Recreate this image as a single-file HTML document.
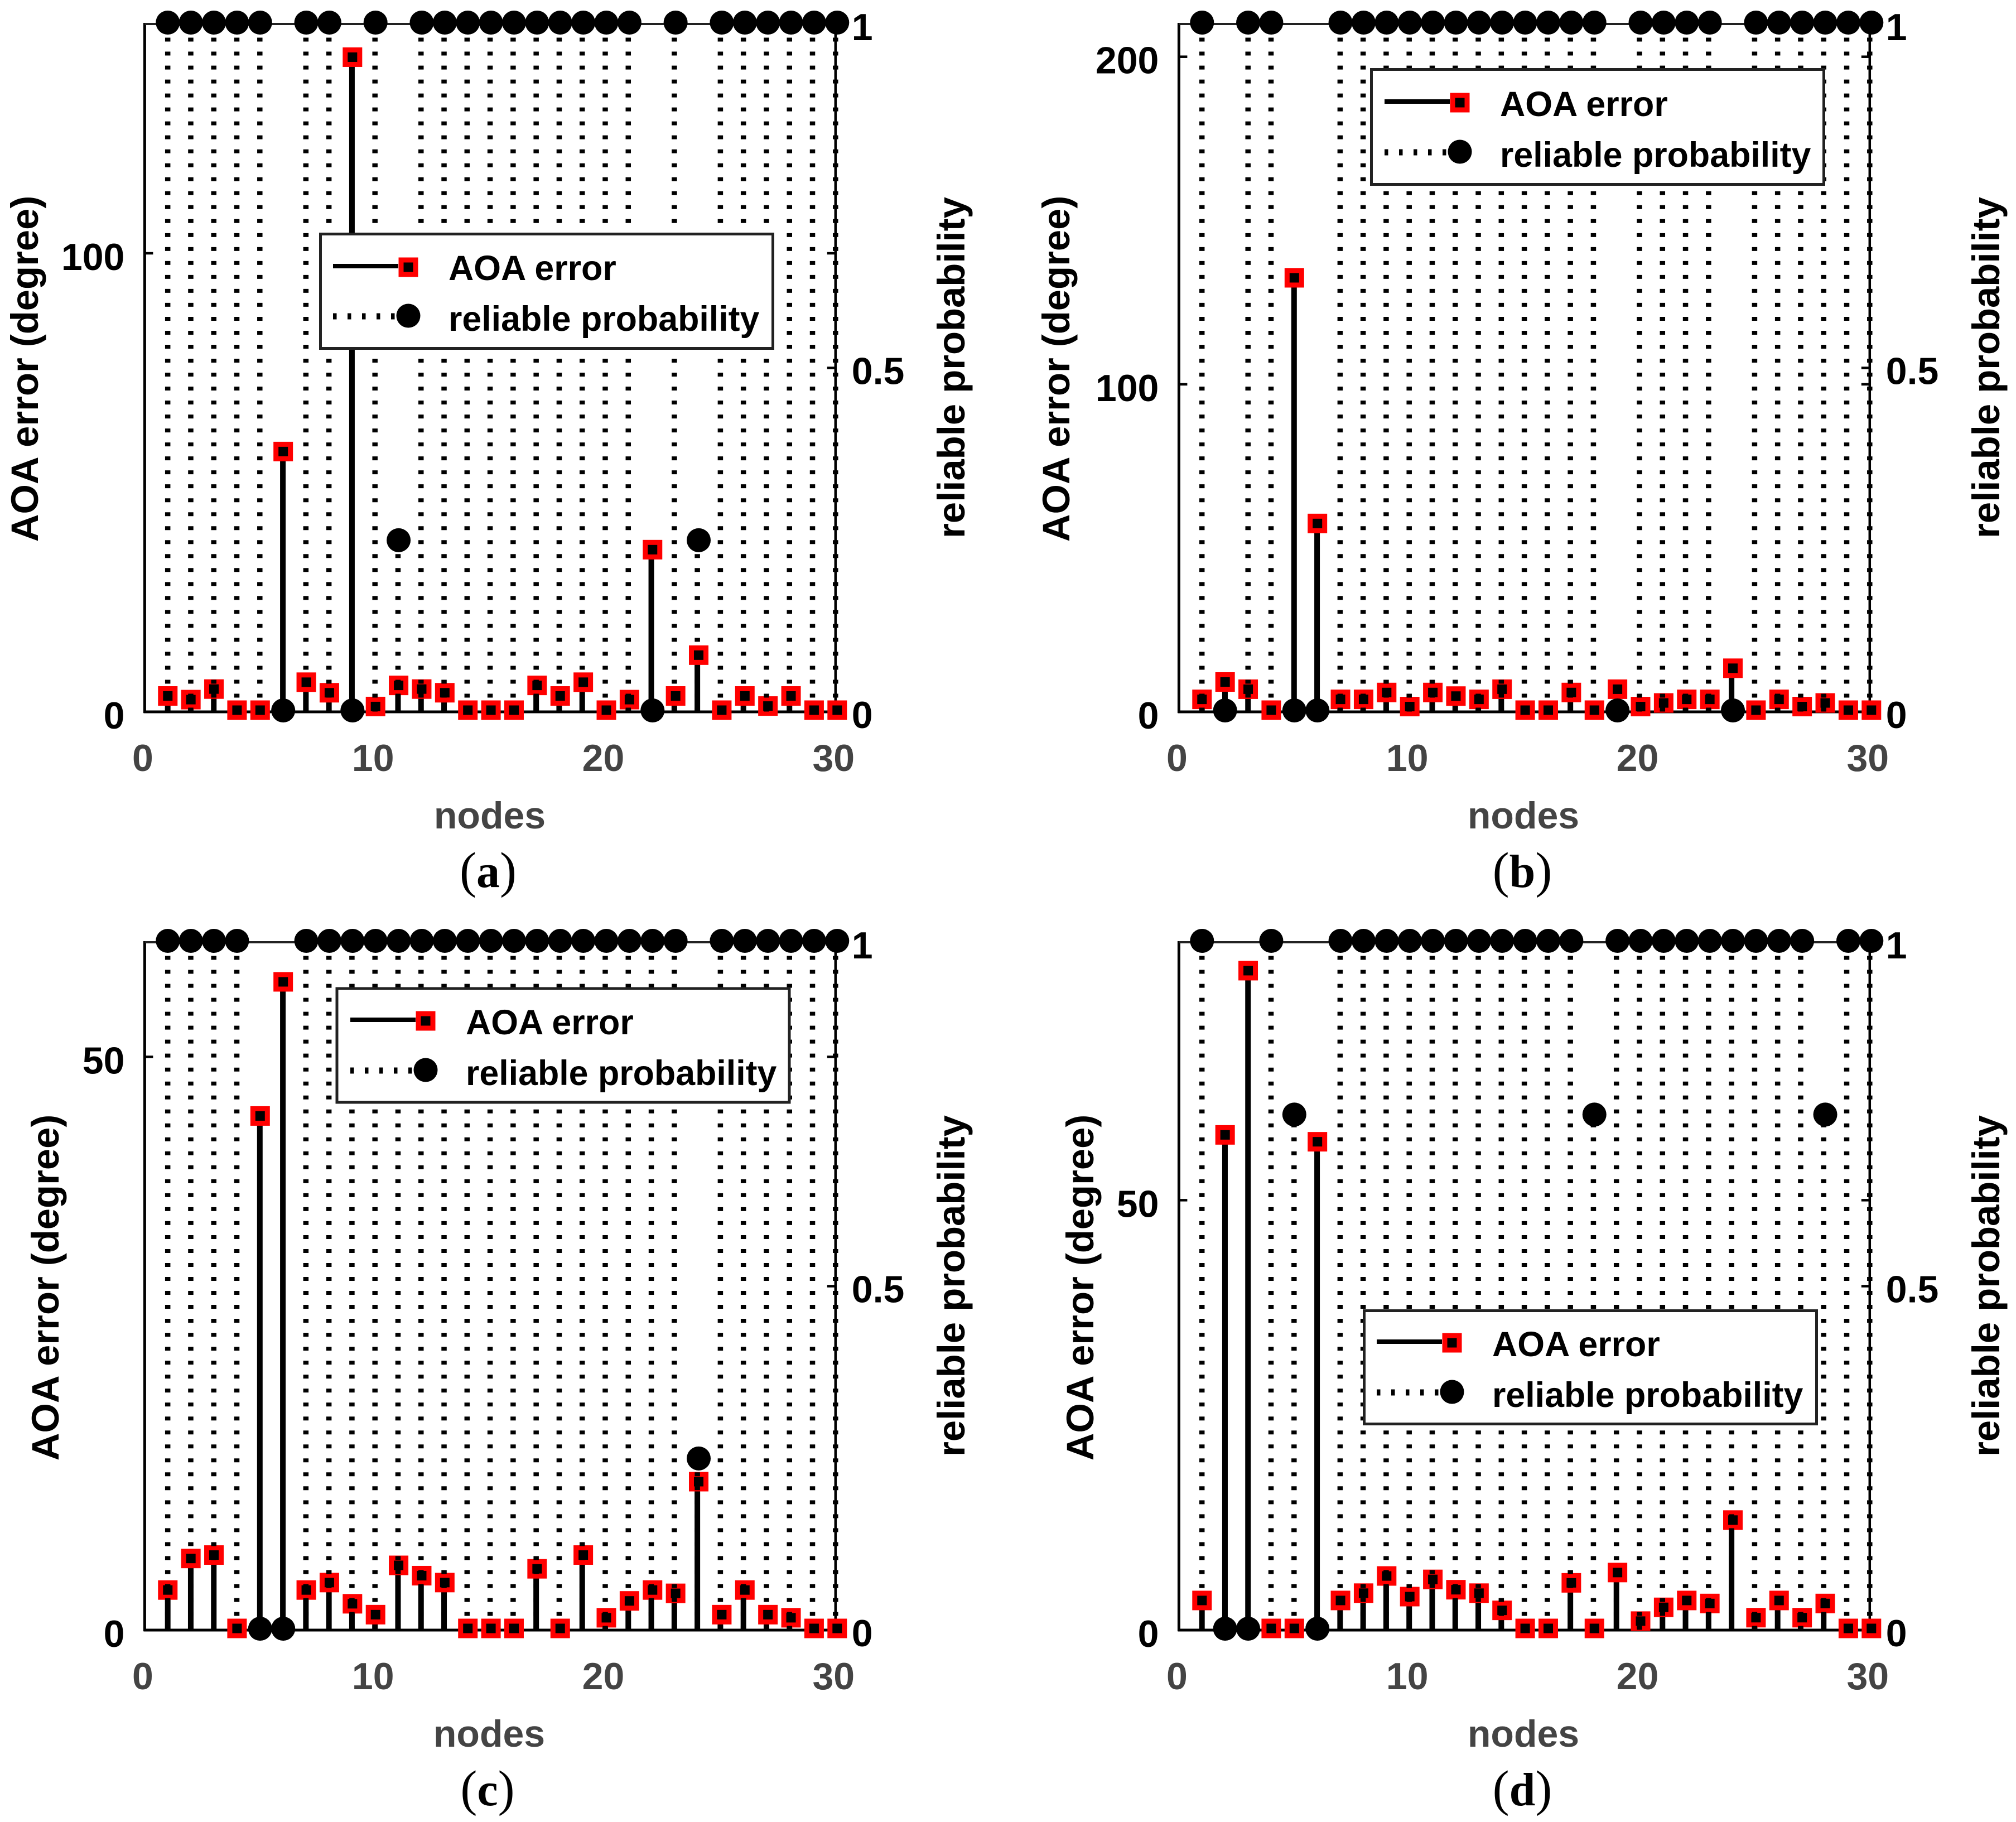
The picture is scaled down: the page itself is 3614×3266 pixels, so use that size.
<!DOCTYPE html>
<html lang="en">
<head>
<meta charset="utf-8">
<title>AOA error and reliable probability per node</title>
<style>
html,body{margin:0;padding:0;background:#fff;}
svg{display:block;}
text{font-family:"Liberation Sans",Arial,sans-serif;font-weight:bold;}
.ax{font-size:68px;fill:#000;}
.yt{font-size:68.8px;fill:#000;}
.xl{font-size:68px;fill:#444;}
.lg{font-size:62.7px;fill:#000;}
text.cap{font-family:"Liberation Serif",serif;font-weight:normal;font-size:90px;fill:#000;text-anchor:middle;}
.cap tspan{font-weight:bold;font-size:84px;}
.box{fill:#fff;stroke:#222;stroke-width:5;}
</style>
</head>
<body>
<svg id="figure" xmlns="http://www.w3.org/2000/svg" width="3614" height="3266" viewBox="0 0 3614 3266">
<rect x="0" y="0" width="3614" height="3266" fill="#fff"/>

<g id="panel-a">
  <g id="marks-a"></g>
  <text class="yt" text-anchor="middle" transform="translate(68 661) rotate(-90)">AOA error (degree)</text>
  <text class="yt" text-anchor="middle" transform="translate(1729 659) rotate(-90)">reliable probability</text>
  <text class="xl" text-anchor="middle" x="878" y="1485">nodes</text>
  <text class="cap" x="875" y="1590">(<tspan>a</tspan>)</text>
  <g>
    <rect class="box" x="574.5" y="419.5" width="811" height="205"/>
    <line x1="597" x2="714" y1="477" y2="477" stroke="#000" stroke-width="8"/>
    <rect x="719" y="466" width="26" height="26" fill="#000" stroke="#f00" stroke-width="9"/>
    <line x1="597" x2="714" y1="567" y2="567" stroke="#000" stroke-width="11" stroke-dasharray="6.5 19.5"/>
    <circle cx="732" cy="566" r="21.5" fill="#000"/>
    <text class="lg" x="804" y="502">AOA error</text>
    <text class="lg" x="804" y="593">reliable probability</text>
  </g>
</g>

<g id="panel-b">
  <g id="marks-b"></g>
  <text class="yt" text-anchor="middle" transform="translate(1917 661) rotate(-90)">AOA error (degree)</text>
  <text class="yt" text-anchor="middle" transform="translate(3584 659) rotate(-90)">reliable probability</text>
  <text class="xl" text-anchor="middle" x="2731" y="1485">nodes</text>
  <text class="cap" x="2729" y="1590">(<tspan>b</tspan>)</text>
  <g>
    <rect class="box" x="2458.5" y="124.5" width="811" height="206"/>
    <line x1="2482" x2="2599" y1="182" y2="182" stroke="#000" stroke-width="8"/>
    <rect x="2604" y="171" width="26" height="26" fill="#000" stroke="#f00" stroke-width="9"/>
    <line x1="2482" x2="2599" y1="273" y2="273" stroke="#000" stroke-width="11" stroke-dasharray="6.5 19.5"/>
    <circle cx="2617" cy="272" r="21.5" fill="#000"/>
    <text class="lg" x="2689" y="208">AOA error</text>
    <text class="lg" x="2689" y="299">reliable probability</text>
  </g>
</g>

<g id="panel-c">
  <g id="marks-c"></g>
  <text class="yt" text-anchor="middle" transform="translate(105 2308) rotate(-90)">AOA error (degree)</text>
  <text class="yt" text-anchor="middle" transform="translate(1729 2305) rotate(-90)">reliable probability</text>
  <text class="xl" text-anchor="middle" x="877" y="3131">nodes</text>
  <text class="cap" x="874" y="3236">(<tspan>c</tspan>)</text>
  <g>
    <rect class="box" x="604" y="1772" width="811" height="204"/>
    <line x1="628" x2="745" y1="1828" y2="1828" stroke="#000" stroke-width="8"/>
    <rect x="750" y="1817" width="26" height="26" fill="#000" stroke="#f00" stroke-width="9"/>
    <line x1="628" x2="745" y1="1919" y2="1919" stroke="#000" stroke-width="11" stroke-dasharray="6.5 19.5"/>
    <circle cx="763" cy="1918" r="21.5" fill="#000"/>
    <text class="lg" x="835" y="1854">AOA error</text>
    <text class="lg" x="835" y="1945">reliable probability</text>
  </g>
</g>

<g id="panel-d">
  <g id="marks-d"></g>
  <text class="yt" text-anchor="middle" transform="translate(1960 2308) rotate(-90)">AOA error (degree)</text>
  <text class="yt" text-anchor="middle" transform="translate(3584 2305) rotate(-90)">reliable probability</text>
  <text class="xl" text-anchor="middle" x="2731" y="3131">nodes</text>
  <text class="cap" x="2729" y="3236">(<tspan>d</tspan>)</text>
  <g>
    <rect class="box" x="2445.5" y="2349.5" width="811" height="203"/>
    <line x1="2468" x2="2585" y1="2405" y2="2405" stroke="#000" stroke-width="8"/>
    <rect x="2590" y="2394" width="26" height="26" fill="#000" stroke="#f00" stroke-width="9"/>
    <line x1="2468" x2="2585" y1="2496" y2="2496" stroke="#000" stroke-width="11" stroke-dasharray="6.5 19.5"/>
    <circle cx="2603" cy="2495" r="21.5" fill="#000"/>
    <text class="lg" x="2675" y="2431">AOA error</text>
    <text class="lg" x="2675" y="2522">reliable probability</text>
  </g>
</g>
</svg>

<script>
const nodes = [1,2,3,4,5,6,7,8,9,10,11,12,13,14,15,16,17,18,19,20,21,22,23,24,25,26,27,28,29,30];
const xTicks = [0,10,20,30];
const rightTicks = [0,0.5,1];

const errorA = [3.1,2.3,4.6,0,0,56.4,6.1,3.8,142.4,0.8,5.4,4.6,3.8,0,0,0,5.4,3.1,6.1,0,2.3,35,3.1,12,0,3.1,0.9,3.1,0,0];
const probA  = [1,1,1,1,1,0,1,1,0,1,0.2475,1,1,1,1,1,1,1,1,1,1,0,1,0.2475,1,1,1,1,1,1];
const leftTicksA = [0,100];
const yMaxA = 150;

const errorB = [3.3,8.6,6.4,0,132,57,3.3,3.3,5.4,1.1,5.4,4.3,3.3,6.4,0,0,5.4,0,6.4,1.1,2.2,3.3,3.3,12.8,0,3.3,1.1,2.2,0,0];
const probB  = [1,0,1,1,0,0,1,1,1,1,1,1,1,1,1,1,1,1,0,1,1,1,1,0,1,1,1,1,1,1];
const leftTicksB = [0,100,200];
const yMaxB = 210;

const errorC = [3.35,6.1,6.4,0,44.7,56.4,3.35,4,2.15,1.2,5.5,4.6,4,0,0,0,5.2,0,6.4,0.93,2.4,3.35,3.06,12.8,1.2,3.35,1.2,0.93,0,0];
const probC  = [1,1,1,1,0,0,1,1,1,1,1,1,1,1,1,1,1,1,1,1,1,1,1,0.2475,1,1,1,1,1,1];
const leftTicksC = [0,50];
const yMaxC = 60;

const errorD = [3.25,57.4,76.5,0,0,56.6,3.25,4.1,6.1,3.7,5.7,4.5,4.1,2.1,0,0,5.3,0,6.5,0.85,2.45,3.25,2.9,12.6,1.25,3.25,1.25,2.9,0,0];
const probD  = [1,0,0,1,0.7475,0,1,1,1,1,1,1,1,1,1,1,1,0.7475,1,1,1,1,1,1,1,1,1,0.7475,1,1];
const leftTicksD = [0,50];
const yMaxD = 80;

const NS = 'http://www.w3.org/2000/svg';
const X_MAX = 30;

function make(parent, tag, attrs, text) {
  const el = document.createElementNS(NS, tag);
  for (const k in attrs) el.setAttribute(k, attrs[k]);
  if (text !== undefined) el.textContent = text;
  parent.appendChild(el);
  return el;
}

function drawPanel(id, x0, yBottom, yMax, errors, probs, leftTicks) {
  const root = document.getElementById('marks-' + id);
  const plotW = 1238.4;
  const plotH = 1233;
  const xAxis = v => x0 + plotW * v / X_MAX;
  const xMark = v => xAxis(v) + 3 * v / X_MAX;
  const yErr = v => yBottom - plotH * v / yMax;
  const yProb = v => yBottom - plotH * v;
  const rightX = xAxis(X_MAX);
  const yTop = yBottom - plotH;

  const leftAxis = make(root, 'line', {x1:x0, x2:x0, y1:yTop-2, y2:yBottom+2, stroke:'#000', 'stroke-width':5});
  
  
  const topAxis = make(root, 'line', {x1:x0, x2:rightX, y1:yTop, y2:yTop, stroke:'#222', 'stroke-width':4});
  
  
  const rightAxis = make(root, 'line', {x1:rightX, x2:rightX, y1:yTop, y2:yBottom+2, stroke:'#000', 'stroke-width':4.5});
  
  
  const bottomAxis = make(root, 'line', {x1:x0-2, x2:rightX+2, y1:yBottom, y2:yBottom, stroke:'#000', 'stroke-width':5});
  
  

  leftTicks.forEach(t => {
    if (t !== 0) {
      const tick = make(root, 'line', {x1:x0, x2:x0+15, y1:yErr(t), y2:yErr(t), stroke:'#000', 'stroke-width':4.5});
      
      
      const mirror = make(root, 'line', {x1:rightX-15, x2:rightX, y1:yErr(t), y2:yErr(t), stroke:'#000', 'stroke-width':4.5});
      
      
    }
    const label = make(root, 'text', {class:'ax', 'text-anchor':'end', x:x0-36, y:yErr(t)+30}, String(t));
    
    
  });

  rightTicks.forEach(t => {
    if (t > 0 && t < 1) {
      const tick = make(root, 'line', {x1:rightX-15, x2:rightX, y1:yProb(t), y2:yProb(t), stroke:'#000', 'stroke-width':4.5});
      
      
    }
    const label = make(root, 'text', {class:'ax', 'text-anchor':'start', x:rightX+29, y:yProb(t)+29}, String(t));
    
    
  });

  xTicks.forEach(t => {
    const label = make(root, 'text', {class:'xl', 'text-anchor':'middle', x:x0-3.5+plotW*t/X_MAX, y:yBottom+106}, String(t));
    
    
  });

  nodes.forEach((n, i) => {
    const errStem = make(root, 'line', {x1:xAxis(n), x2:xAxis(n), y1:yBottom, y2:yErr(errors[i]), stroke:'#000', 'stroke-width':10});
    
    
    const marker = make(root, 'rect', {x:xMark(n)-13, y:yErr(errors[i])-3-13, width:26, height:26, fill:'#000', stroke:'#f00', 'stroke-width':9});
    
    
  });

  nodes.forEach((n, i) => {
    if (probs[i] > 0) {
      const probStem = make(root, 'line', {x1:xAxis(n), x2:xAxis(n), y1:yBottom-0.5, y2:yProb(probs[i]), stroke:'#000', 'stroke-width':9.5, 'stroke-dasharray':'7 18.02'});
      
      
    }
    const dot = make(root, 'circle', {cx:xMark(n), cy:yProb(probs[i])-2.5, r:21.5, fill:'#000'});
    
    
  });
}

drawPanel('a', 259.4, 1276, yMaxA, errorA, probA, leftTicksA);
drawPanel('b', 2113.4, 1276, yMaxB, errorB, probB, leftTicksB);
drawPanel('c', 259.4, 2922, yMaxC, errorC, probC, leftTicksC);
drawPanel('d', 2113.4, 2922, yMaxD, errorD, probD, leftTicksD);
</script>
</body>
</html>
